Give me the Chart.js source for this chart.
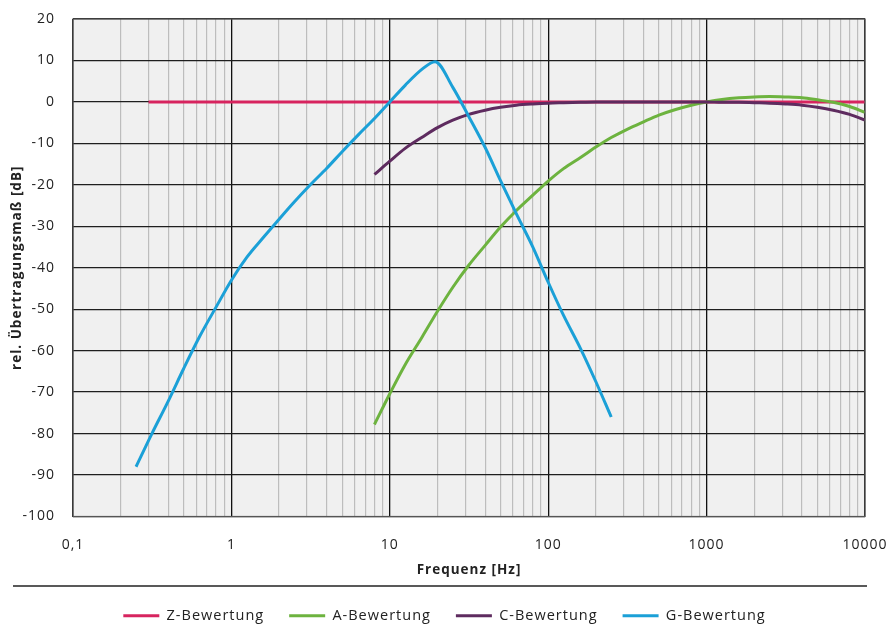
<!DOCTYPE html>
<html>
<head>
<meta charset="utf-8">
<script src="https://cdn.jsdelivr.net/npm/chart.js@4.4.1/dist/chart.umd.min.js"></script>
<style>
  html, body { margin: 0; padding: 0; background: #fff; }
  #wrap { width: 889px; height: 637px; }
</style>
</head>
<body>
<div id="wrap"><canvas id="myChart"></canvas></div>
<script>
// Data (frequency in Hz, level in dB)

const zFreq = [0.3, 10000];
const zLevel = [0, 0];

const aFreq = [8, 10, 12.5, 16, 20, 25, 31.5, 40, 50, 63, 80, 100, 125, 160, 200, 250, 315, 400, 500, 630, 800,
  1000, 1250, 1600, 2000, 2500, 3150, 4000, 5000, 6300, 8000, 10000];
const aLevel = [-77.8, -70.4, -63.4, -56.7, -50.5, -44.7, -39.4, -34.6, -30.2, -26.2, -22.5, -19.1, -16.1, -13.4,
  -10.9, -8.6, -6.6, -4.8, -3.2, -1.9, -0.8, 0, 0.6, 1.0, 1.2, 1.3, 1.2, 1.0, 0.5, -0.1, -1.1, -2.5];

const cFreq = [8, 10, 12.5, 16, 20, 25, 31.5, 40, 50, 63, 80, 100, 125, 160, 200, 500, 1000, 1250, 1600, 2000,
  2500, 3150, 4000, 5000, 6300, 8000, 10000];
const cLevel = [-17.5, -14.3, -11.2, -8.5, -6.2, -4.4, -3.0, -2.0, -1.3, -0.8, -0.5, -0.3, -0.2, -0.1, 0, 0, 0,
  -0.1, -0.1, -0.2, -0.3, -0.5, -0.8, -1.3, -2.0, -3.0, -4.4];

const gFreq = [0.25, 0.315, 0.4, 0.5, 0.63, 0.8, 1, 1.25, 1.6, 2, 2.5, 3.15, 4, 5, 6.3, 8, 10, 12.5, 16, 19.3, 25,
  31.5, 40, 50, 63, 80, 100, 125, 160, 200, 250];
const gLevel = [-88, -80, -72.1, -64.3, -56.6, -49.5, -43, -37.5, -32.6, -28.3, -24.1, -20, -16, -12, -8, -4, 0,
  4, 7.9, 9.7, 3.5, -3.5, -11, -19, -27, -35, -43.5, -51.5, -59.5, -67.5, -76];

const decades = [0.1, 1, 10, 100, 1000, 10000];
const decadeLabels = ["0,1", "1", "10", "100", "1000", "10000"];

const seriesNames = ["G-Bewertung", "C-Bewertung", "A-Bewertung", "Z-Bewertung"];
const seriesColors = ["#1ba0d7", "#5e2b5f", "#6db33f", "#d7245f"];

// Helpers

const toPoints = (xs, ys) => xs.map((x, i) => ({ x: x, y: ys[i] }));
const isDecade = v => Math.abs(Math.log10(v) - Math.round(Math.log10(v))) < 1e-6;

const seriesData = [
  toPoints(gFreq, gLevel),
  toPoints(cFreq, cLevel),
  toPoints(aFreq, aLevel),
  toPoints(zFreq, zLevel),
];

// Plugins

const plotBackground = {
  id: "plotBackground",
  // canvas resize resets the context state, so set spacing before layout and drawing
  beforeUpdate(chart) {
    chart.ctx.letterSpacing = "1px";
  },
  beforeDraw(chart) {
    const { ctx, chartArea: a } = chart;
    ctx.letterSpacing = "1px";
    ctx.save();
    ctx.fillStyle = "#f0f0f0";
    ctx.fillRect(a.left, a.top, a.right - a.left, a.bottom - a.top);
    ctx.restore();
  },
  afterDraw(chart) {
    const { ctx, chartArea: a } = chart;
    ctx.save();
    ctx.strokeStyle = "#555";
    ctx.lineWidth = 1.2;
    ctx.strokeRect(a.left, a.top, a.right - a.left, a.bottom - a.top);
    // separator above the legend
    ctx.strokeStyle = "#222";
    ctx.lineWidth = 1.5;
    ctx.beginPath();
    ctx.moveTo(13, 586);
    ctx.lineTo(867, 586);
    ctx.stroke();
    ctx.restore();
  },
};

// Chart declaration

const ctx = document.getElementById("myChart").getContext("2d");
const chart = new Chart(ctx, {
  type: "line",
  data: {
    datasets: seriesData.map((d, i) => ({
      label: seriesNames[i],
      data: d,
      borderColor: seriesColors[i],
      backgroundColor: seriesColors[i],
      borderWidth: 3,
      pointRadius: 0,
      cubicInterpolationMode: "monotone",
    })),
  },
  options: {
    responsive: true,
    maintainAspectRatio: false,
    animation: false,
    layout: { padding: { top: 19, right: 6, bottom: 4, left: 6 } },
    plugins: {
      tooltip: { enabled: false },
      legend: {
        position: "bottom",
        labels: {
          usePointStyle: true,
          pointStyle: "line",
          pointStyleWidth: 36,
          padding: 25,
          color: "#222",
          font: { family: "Open Sans", size: 14.5 },
          sort: (a, b) => b.datasetIndex - a.datasetIndex,
        },
      },
    },
    scales: {
      x: {
        type: "logarithmic",
        min: 0.1,
        max: 10000,
        afterBuildTicks: scale => {
          const ticks = [];
          decades.slice(0, -1).forEach(d => {
            for (let k = 1; k <= 9; k++) ticks.push({ value: k * d });
          });
          ticks.push({ value: 10000 });
          scale.ticks = ticks;
        },
        afterFit: scale => {
          scale.height = 67;
          scale.paddingLeft = 0;
          scale.paddingRight = 0;
        },
        ticks: {
          autoSkip: false,
          maxRotation: 0,
          padding: 20,
          color: "#222",
          font: { family: "Open Sans", size: 14 },
          callback: value => {
            const i = decades.findIndex(d => Math.abs(d - value) < d * 1e-6);
            return i >= 0 ? decadeLabels[i] : "";
          },
        },
        grid: {
          drawTicks: false,
          color: c => (isDecade(c.tick.value) ? "#111" : "#bdbdbd"),
          lineWidth: c => (isDecade(c.tick.value) ? 1.3 : 1.2),
        },
        border: { display: false },
        title: {
          display: true,
          text: "Frequenz [Hz]",
          color: "#222",
          font: { family: "Open Sans", size: 13.5, weight: "bold" },
          padding: { top: 0, bottom: 5 },
        },
      },
      y: {
        min: -100,
        max: 20,
        afterFit: scale => {
          scale.width = 67;
          scale.paddingTop = 0;
          scale.paddingBottom = 0;
        },
        ticks: {
          stepSize: 10,
          padding: 18,
          color: "#222",
          font: { family: "Open Sans", size: 14 },
        },
        grid: {
          drawTicks: false,
          color: "#1e1e1e",
          lineWidth: 1.3,
        },
        border: { display: false },
        title: {
          display: true,
          text: "rel. Übertragungsmaß [dB]",
          color: "#222",
          font: { family: "Open Sans", size: 13.5, weight: "bold" },
          padding: { top: 3, bottom: 0 },
        },
      },
      // empty right axis, only reserves the margin right of the plot
      yRight: {
        position: "right",
        display: true,
        min: -100,
        max: 20,
        afterFit: scale => {
          scale.width = 18;
          scale.paddingTop = 0;
          scale.paddingBottom = 0;
        },
        ticks: { display: false },
        grid: { display: false, drawTicks: false },
        border: { display: false },
      },
    },
  },
  plugins: [plotBackground],
});
</script>
</body>
</html>
